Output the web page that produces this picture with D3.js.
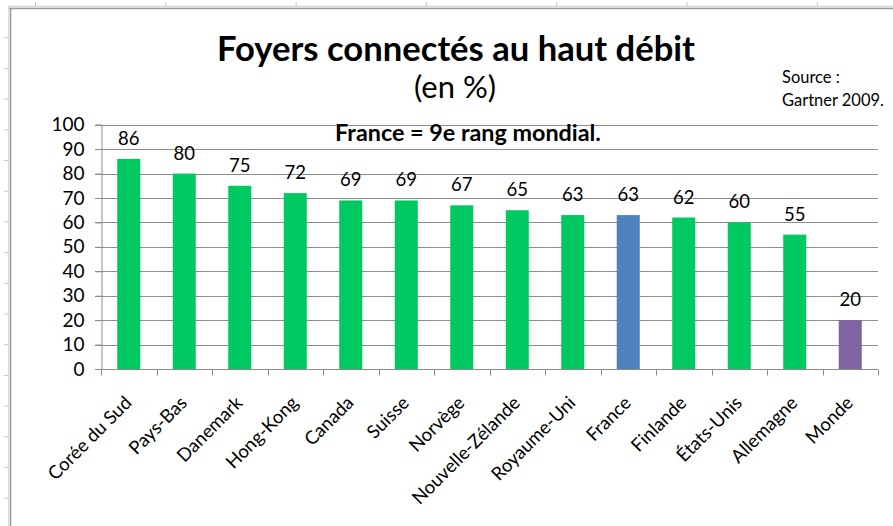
<!DOCTYPE html>
<html>
<head>
<meta charset="utf-8">
<script src="https://cdn.jsdelivr.net/npm/d3@7"></script>
<style>
  html, body { margin: 0; padding: 0; background: #fff; }
  svg { display: block; }
  text { font-family: Lato, "Open Sans", sans-serif; fill: #000; }
</style>
</head>
<body>
<svg id="chart" width="893" height="526"></svg>
<script>
// ---- data ----
const categories = ["Corée du Sud", "Pays-Bas", "Danemark", "Hong-Kong", "Canada", "Suisse", "Norvège",
  "Nouvelle-Zélande", "Royaume-Uni", "France", "Finlande", "États-Unis", "Allemagne", "Monde"];
const values = [86, 80, 75, 72, 69, 69, 67, 65, 63, 63, 62, 60, 55, 20];
const barGroups = ["pays", "pays", "pays", "pays", "pays", "pays", "pays", "pays", "pays", "france", "pays", "pays", "pays", "monde"];
const yTicks = [0, 10, 20, 30, 40, 50, 60, 70, 80, 90, 100];
const titleText = "Foyers connectés au haut débit";
const subtitleText = "(en %)";
const noteText = "France = 9e rang mondial.";
const sourceLines = ["Source :", "Gartner 2009."];

const groupColor = d3.scaleOrdinal()
  .domain(["pays", "france", "monde"])
  .range(["#00c962", "#4f81bd", "#8064a2"]);

const svg = d3.select("#chart");
const W = 893, H = 526;

// ---- spreadsheet frame ----
const frame = svg.append("g");
d3.range(7).forEach(i => {
  const x = 35.5 + i * 130.3;
  frame.append("line").attr("x1", x).attr("x2", x).attr("y1", 2).attr("y2", 6)
    .attr("stroke", "#c8c8c8").attr("stroke-width", 1);
});
d3.range(16).forEach(i => {
  const y = 37.7 + i * 30.7;
  frame.append("line").attr("x1", 4).attr("x2", 9).attr("y1", y).attr("y2", y)
    .attr("stroke", "#c8c8c8").attr("stroke-width", 1);
});
frame.append("line").attr("x1", 8).attr("x2", W).attr("y1", 6.5).attr("y2", 6.5).attr("stroke", "#d4d4d4").attr("stroke-width", 1.5);
frame.append("line").attr("x1", 9).attr("x2", W).attr("y1", 8.5).attr("y2", 8.5).attr("stroke", "#9a9a9a").attr("stroke-width", 1.5);
frame.append("line").attr("x1", 8.8).attr("x2", 8.8).attr("y1", 6).attr("y2", H).attr("stroke", "#d4d4d4").attr("stroke-width", 1.2);
frame.append("line").attr("x1", 10.6).attr("x2", 10.6).attr("y1", 8).attr("y2", H).attr("stroke", "#9a9a9a").attr("stroke-width", 1.5);

// ---- scales ----
const plot = { left: 101, right: 878, top: 124.7, bottom: 369 };
const x = d3.scaleBand().domain(categories).range([plot.left, plot.right]).paddingInner(0.585).paddingOuter(0.2925);
const xb = d3.scaleBand().domain(categories).range([plot.left, plot.right]).padding(0);
const y = d3.scaleLinear().domain([0, 100]).range([plot.bottom, plot.top]);

const axisColor = "#8c8c8c";

// gridlines
svg.append("g").selectAll("line").data(yTicks).join("line")
  .attr("x1", plot.left - 6).attr("x2", plot.right)
  .attr("y1", d => Math.round(y(d)) + 0.5).attr("y2", d => Math.round(y(d)) + 0.5)
  .attr("stroke", axisColor).attr("stroke-width", 1);

// y axis
const yAxis = svg.append("g").attr("transform", `translate(${plot.left + 0.5},0)`)
  .call(d3.axisLeft(y).tickValues(yTicks).tickSize(6).tickPadding(11));
yAxis.select(".domain").attr("stroke", axisColor);
yAxis.selectAll(".tick line").attr("stroke", axisColor);
yAxis.selectAll(".tick text").attr("font-size", 19).attr("font-family", "Lato").attr("fill", "#000");

// x axis
const xAxisG = svg.append("g").attr("transform", `translate(0,${Math.round(plot.bottom) + 0.5})`);
xAxisG.append("line").attr("x1", plot.left).attr("x2", plot.right).attr("stroke", axisColor);
const boundaries = categories.map(c => xb(c)).concat([plot.right]);
xAxisG.selectAll("line.tk").data(boundaries).join("line").attr("class", "tk")
  .attr("x1", d => Math.round(d) + 0.5).attr("x2", d => Math.round(d) + 0.5)
  .attr("y1", 0).attr("y2", 6).attr("stroke", axisColor);

// bars
svg.append("g").selectAll("rect").data(categories).join("rect")
  .attr("x", d => x(d)).attr("width", x.bandwidth())
  .attr("y", (d, i) => y(values[i])).attr("height", (d, i) => y(0) - y(values[i]))
  .attr("fill", (d, i) => groupColor(barGroups[i]));

// value labels
svg.append("g").selectAll("text").data(categories).join("text")
  .attr("x", d => x(d) + x.bandwidth() / 2)
  .attr("y", (d, i) => y(values[i]) - 14)
  .attr("text-anchor", "middle").attr("font-size", 18.5).attr("fill", "#111")
  .text((d, i) => values[i]);

// category labels
svg.append("g").selectAll("text").data(categories).join("text")
  .attr("transform", d => `translate(${xb(d) + xb.bandwidth() / 2 + 4},${plot.bottom + 35}) rotate(-45)`)
  .attr("text-anchor", "end").attr("font-size", 18.5).attr("fill", "#111")
  .text(d => d);

// fit helper
function fit(sel, targetWidth) {
  const n = sel.node();
  const fs = parseFloat(sel.attr("font-size"));
  const w = n.getComputedTextLength();
  sel.attr("font-size", fs * targetWidth / w);
  return sel;
}

// titles
fit(svg.append("text").attr("x", 456).attr("y", 61).attr("text-anchor", "middle")
  .attr("font-size", 32).attr("font-weight", "bold").text(titleText), 478);
fit(svg.append("text").attr("x", 455).attr("y", 98).attr("text-anchor", "middle")
  .attr("font-size", 22).text(subtitleText), 82);
fit(svg.append("text").attr("x", 468).attr("y", 141).attr("text-anchor", "middle")
  .attr("font-size", 19).attr("font-weight", "bold").text(noteText), 266);
const s1 = svg.append("text").attr("x", 782).attr("y", 83).attr("font-size", 14).attr("fill", "#111").text(sourceLines[0]);
const s2 = svg.append("text").attr("x", 782).attr("y", 106).attr("font-size", 14).attr("fill", "#111").text(sourceLines[1]);
fit(s2, 102);
s1.attr("font-size", s2.attr("font-size"));
</script>
</body>
</html>
